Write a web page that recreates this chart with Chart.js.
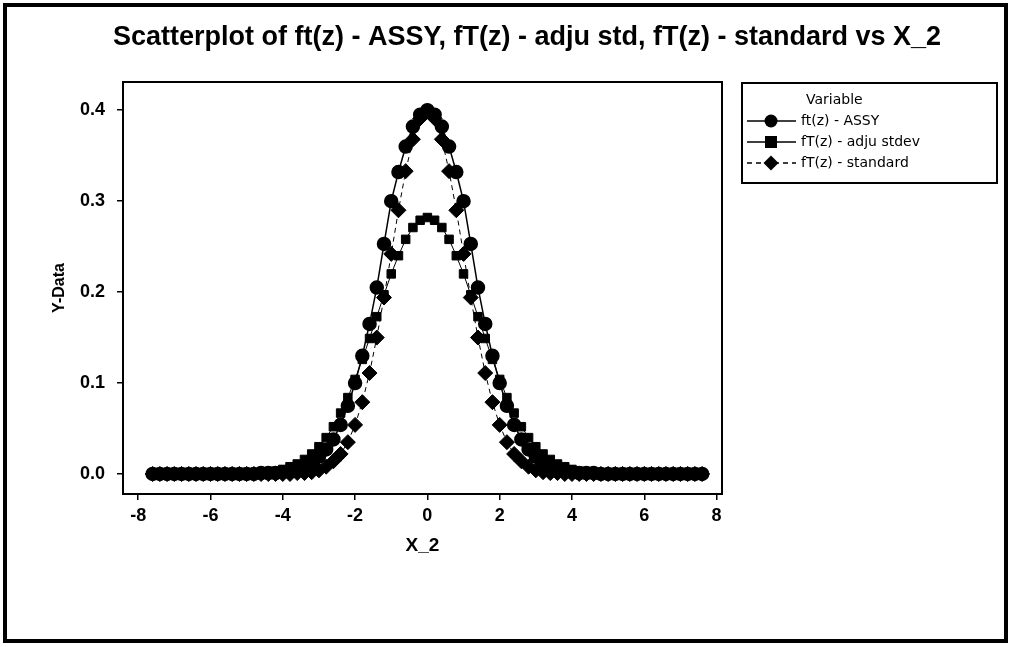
<!DOCTYPE html>
<html>
<head>
<meta charset="utf-8">
<script src="https://cdn.jsdelivr.net/npm/chart.js@4.4.1/dist/chart.umd.min.js"></script>
<style>
  body { margin: 0; background: #fff; }
</style>
</head>
<body>
<canvas id="myChart" width="1011" height="647"></canvas>
<script>
// X_2 values, step 0.2
const xVals = [-7.6,-7.4,-7.2,-7.0,-6.8,-6.6,-6.4,-6.2,-6.0,-5.8,-5.6,-5.4,-5.2,-5.0,-4.8,-4.6,-4.4,-4.2,-4.0,-3.8,
  -3.6,-3.4,-3.2,-3.0,-2.8,-2.6,-2.4,-2.2,-2.0,-1.8,-1.6,-1.4,-1.2,-1.0,-0.8,-0.6,-0.4,-0.2,
  0,
  0.2,0.4,0.6,0.8,1.0,1.2,1.4,1.6,1.8,2.0,2.2,2.4,2.6,2.8,3.0,3.2,3.4,3.6,3.8,4.0,
  4.2,4.4,4.6,4.8,5.0,5.2,5.4,5.6,5.8,6.0,6.2,6.4,6.6,6.8,7.0,7.2,7.4,7.6];

// ft(z) - ASSY
const assy = [0,0,0,0,0,0,0,0,0,0,0,0,0,0,0,
  0.001,0.001,0.001,0.002,0.004,0.006,0.009,0.013,0.019,0.027,0.038,0.054,0.075,0.100,0.130,0.165,0.205,0.253,0.300,0.332,0.360,0.382,0.395,
  0.400,
  0.395,0.382,0.360,0.332,0.300,0.253,0.205,0.165,0.130,0.100,0.075,0.054,0.038,0.027,0.019,0.013,0.009,0.006,0.004,0.002,0.001,0.001,0.001,
  0,0,0,0,0,0,0,0,0,0,0,0,0,0,0];

// fT(z) - adju stdev
const adju = [0,0,0,0,0,0,0,0,0,0,0,0,0,0,
  0.001,0.001,0.002,0.003,0.005,0.008,0.011,0.016,0.022,0.030,0.040,0.052,0.067,0.084,0.104,0.126,0.149,0.173,0.197,0.220,0.240,0.258,0.271,0.279,
  0.282,
  0.279,0.271,0.258,0.240,0.220,0.197,0.173,0.149,0.126,0.104,0.084,0.067,0.052,0.040,0.030,0.022,0.016,0.011,0.008,0.005,0.003,0.002,0.001,0.001,
  0,0,0,0,0,0,0,0,0,0,0,0,0,0];

// fT(z) - standard
const standard = [0,0,0,0,0,0,0,0,0,0,0,0,0,0,0,0,0,0,0,0,
  0.001,0.001,0.002,0.004,0.008,0.014,0.022,0.035,0.054,0.079,0.111,0.150,0.194,0.242,0.290,0.333,0.368,0.391,
  0.399,
  0.391,0.368,0.333,0.290,0.242,0.194,0.150,0.111,0.079,0.054,0.035,0.022,0.014,0.008,0.004,0.002,0.001,0.001,
  0,0,0,0,0,0,0,0,0,0,0,0,0,0,0,0,0,0,0,0];

const seriesNames = ['ft(z) - ASSY', 'fT(z) - adju stdev', 'fT(z) - standard'];
const xTicks = [-8, -6, -4, -2, 0, 2, 4, 6, 8];
const yTicks = [0, 0.1, 0.2, 0.3, 0.4];
const titleText = 'Scatterplot of ft(z) - ASSY, fT(z) - adju std, fT(z) - standard vs X_2';

function toPoints(ys) {
  return xVals.map((x, i) => ({ x: x, y: ys[i] }));
}

// simple marker drawer for the legend
function drawMarker(ctx, style, r, x, y) {
  ctx.beginPath();
  if (style === 'circle') {
    ctx.arc(x, y, r, 0, Math.PI * 2);
  } else if (style === 'rect') {
    ctx.rect(x - r, y - r, r * 2, r * 2);
  } else {
    ctx.moveTo(x, y - r); ctx.lineTo(x + r, y); ctx.lineTo(x, y + r); ctx.lineTo(x - r, y);
    ctx.closePath();
  }
  ctx.fill();
}

const framePlugin = {
  id: 'frame',
  afterDraw(chart) {
    const ctx = chart.ctx;
    const a = chart.chartArea;
    ctx.save();
    ctx.strokeStyle = '#000';
    // plot frame
    ctx.lineWidth = 2;
    ctx.strokeRect(a.left, a.top, a.right - a.left, a.bottom - a.top);
    // outer border
    ctx.lineWidth = 4;
    ctx.strokeRect(5, 5, 1001, 636);

    // title
    ctx.fillStyle = '#000';
    ctx.font = 'bold 27px "Liberation Sans"';
    ctx.textAlign = 'center';
    ctx.textBaseline = 'middle';
    ctx.fillText(titleText, 527, 38);

    // legend
    ctx.lineWidth = 2;
    ctx.strokeRect(742, 83, 255, 100);
    ctx.font = '14px "DejaVu Sans"';
    ctx.textAlign = 'left';
    ctx.fillText('Variable', 806, 100);
    chart.data.datasets.forEach((ds, i) => {
      const y = 121 + i * 21;
      ctx.lineWidth = 1.5;
      ctx.setLineDash(ds.borderDash || []);
      ctx.beginPath();
      ctx.moveTo(747, y);
      ctx.lineTo(796, y);
      ctx.stroke();
      ctx.setLineDash([]);
      drawMarker(ctx, ds.pointStyle, ds.pointRadius, 771, y);
      ctx.fillText(ds.label, 801, y);
    });
    ctx.restore();
  }
};

const ctx = document.getElementById('myChart').getContext('2d');
const chart = new Chart(ctx, {
  type: 'scatter',
  data: {
    datasets: [{
      label: seriesNames[0],
      data: toPoints(assy),
      showLine: true,
      borderColor: '#000',
      backgroundColor: '#000',
      borderWidth: 1.5,
      pointStyle: 'circle',
      pointRadius: 6.5
    }, {
      label: seriesNames[1],
      data: toPoints(adju),
      showLine: true,
      borderColor: '#000',
      backgroundColor: '#000',
      borderWidth: 1,
      pointStyle: 'rect',
      pointRadius: 6
    }, {
      label: seriesNames[2],
      data: toPoints(standard),
      showLine: true,
      borderColor: '#000',
      backgroundColor: '#000',
      borderWidth: 1,
      borderDash: [5, 4],
      pointStyle: 'rectRot',
      pointRadius: 7.5
    }]
  },
  options: {
    responsive: false,
    animation: false,
    layout: { padding: { left: 48, right: 289, top: 82, bottom: 90 } },
    plugins: {
      legend: { display: false },
      title: { display: false },
      tooltip: { enabled: false }
    },
    scales: {
      x: {
        type: 'linear',
        min: -8.42,
        max: 8.15,
        afterFit: (s) => { s.height = 63; },
        afterBuildTicks: (s) => { s.ticks = xTicks.map(v => ({ value: v })); },
        grid: { drawOnChartArea: false, drawTicks: true, tickLength: 6, color: '#000', lineWidth: 1.5 },
        border: { display: true, color: '#000', width: 2 },
        ticks: {
          color: '#000',
          padding: 5,
          maxRotation: 0,
          font: { family: 'Liberation Sans', size: 18, weight: 'bold' },
          callback: (v) => String(v)
        },
        title: {
          display: true,
          text: 'X_2',
          color: '#000',
          padding: 0,
          font: { family: 'Liberation Sans', size: 19, weight: 'bold' }
        }
      },
      y: {
        type: 'linear',
        min: -0.022,
        max: 0.431,
        afterFit: (s) => { s.width = 75; },
        afterBuildTicks: (s) => { s.ticks = yTicks.map(v => ({ value: v })); },
        grid: { drawOnChartArea: false, drawTicks: true, tickLength: 6, color: '#000', lineWidth: 1.5 },
        border: { display: true, color: '#000', width: 2 },
        ticks: {
          color: '#000',
          padding: 12,
          font: { family: 'Liberation Sans', size: 18, weight: 'bold' },
          callback: (v) => Number(v).toFixed(1)
        },
        title: {
          display: true,
          text: 'Y-Data',
          color: '#000',
          padding: 2,
          font: { family: 'Liberation Sans', size: 16, weight: 'bold' }
        }
      }
    }
  },
  plugins: [framePlugin]
});
</script>
</body>
</html>
